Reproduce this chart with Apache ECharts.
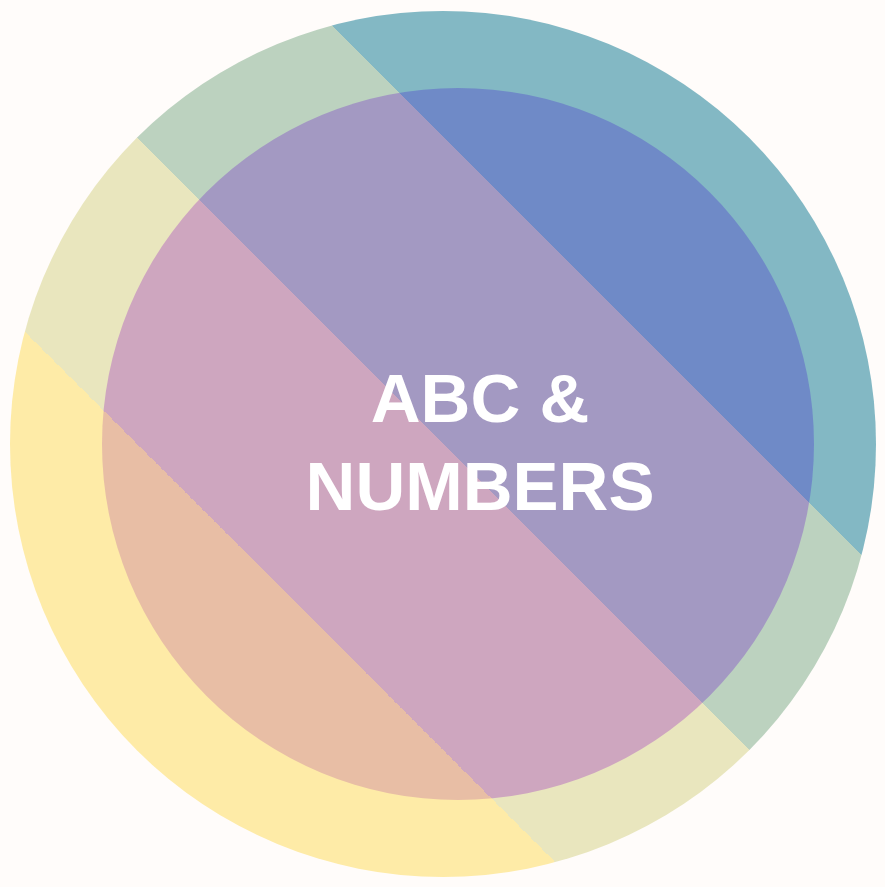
<!DOCTYPE html>
<html>
<head>
<meta charset="utf-8">
<script src="https://cdn.jsdelivr.net/npm/echarts@6/dist/echarts.min.js"></script>
<style>
html,body{margin:0;padding:0;background:#FFFCFA;}
#main{width:885px;height:887px;}
</style>
</head>
<body>
<div id="main"></div>
<script>
// ---- data ----
const rings = ['outer', 'inner'];
const ringValues = [1, 1];
const outerBandColors = ['#FEEBA7', '#E9E6BE', '#BCD2BF', '#83B8C4'];
const innerBandColors = ['#E8BEA5', '#CEA6BF', '#A399C2', '#6F8AC7'];
const bandEdges = [0.25, 0.5, 0.75];
const labelLines = ['ABC &', 'NUMBERS'];

function bandGradient(colors) {
  const stops = [];
  const edges = [0].concat(bandEdges, [1]);
  colors.forEach(function (c, i) {
    stops.push({ offset: edges[i], color: c });
    stops.push({ offset: edges[i + 1], color: c });
  });
  // global gradient across the picture, perpendicular to the 45° stripes
  return { type: 'linear', x: 0, y: 614, x2: 614, y2: 0, colorStops: stops, global: true };
}

const chart = echarts.init(document.getElementById('main'), null, { renderer: 'canvas' });
const option = {
  backgroundColor: '#FFFCFA',
  animation: false,
  series: [
    {
      name: rings[0], type: 'pie', silent: true,
      center: [443, 444], radius: [0, 433],
      label: { show: false }, labelLine: { show: false },
      itemStyle: { color: bandGradient(outerBandColors), borderWidth: 0 },
      data: [{ name: rings[0], value: ringValues[0] }]
    },
    {
      name: rings[1], type: 'pie', silent: true,
      center: [458, 444], radius: [0, 356],
      label: { show: false }, labelLine: { show: false },
      itemStyle: { color: bandGradient(innerBandColors), borderWidth: 0 },
      data: [{ name: rings[1], value: ringValues[1] }]
    }
  ],
  graphic: {
    elements: labelLines.map(function (t, i) {
      return {
        type: 'text', silent: true, z: 100,
        x: 480, y: 403 + i * 88,
        style: {
          text: t,
          fill: '#FFFFFF',
          fontSize: 69, fontWeight: 'bold',
          fontFamily: '"Liberation Sans", Arial, sans-serif',
          align: 'center', verticalAlign: 'middle'
        }
      };
    })
  }
};
chart.setOption(option);
</script>
</body>
</html>
